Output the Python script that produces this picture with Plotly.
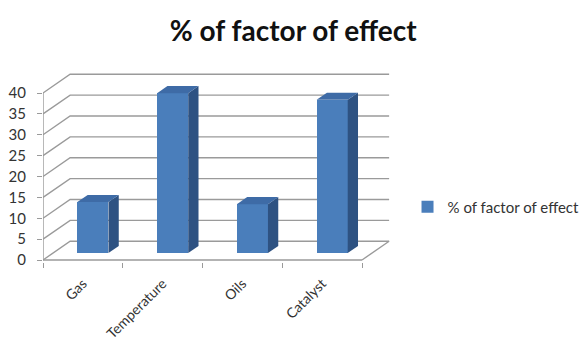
import plotly.graph_objects as go

# Chart data
categories = ["Gas", "Temperature", "Oils", "Catalyst"]
values = [12.2, 38.3, 11.7, 36.7]
y_ticks = [0, 5, 10, 15, 20, 25, 30, 35, 40]
series_name = "% of factor of effect"

# 3-D box geometry (in axis units)
DEPTH_X = 0.34      # horizontal shift of the back wall
DEPTH_Y = 4.5       # vertical shift of the back wall
BAR_FRONT = 0.37    # depth fraction where the bar fronts sit
BAR_DEPTH = 0.38    # depth fraction taken by each bar
BAR_WIDTH = 0.39

FRONT_COLOR = "#4a7ebb"
TOP_COLOR = "#3e6ba6"
SIDE_COLOR = "#2e5282"
GRID_COLOR = "#9a9a9a"

n = len(categories)
x_left, x_right = -0.5, n - 0.5

fig = go.Figure()

# Side wall and back wall gridlines (base subplot, drawn underneath)
gx, gy = [], []
for v in y_ticks:
    gx += [x_left, x_left + DEPTH_X, x_right + DEPTH_X, None]
    gy += [v, v + DEPTH_Y, v + DEPTH_Y, None]
# floor right edge and front edge, front vertical axis
gx += [x_right, x_right + DEPTH_X, None, x_left, x_right, None, x_left, x_left, None]
gy += [0, DEPTH_Y, None, 0, 0, None, 0, max(y_ticks), None]
fig.add_trace(go.Scatter(x=gx, y=gy, mode="lines",
                         line=dict(color=GRID_COLOR, width=1.4),
                         hoverinfo="skip", showlegend=False))

# Bars (overlay subplot, drawn on top of the walls)
shift_x = DEPTH_X * BAR_FRONT
base = DEPTH_Y * BAR_FRONT
dx = DEPTH_X * BAR_DEPTH
dy = DEPTH_Y * BAR_DEPTH
centers = [i + shift_x for i in range(n)]

for c, v in zip(centers, values):
    x0, x1 = c - BAR_WIDTH / 2, c + BAR_WIDTH / 2
    top = base + v
    # right side face
    fig.add_trace(go.Scatter(
        x=[x1, x1, x1 + dx, x1 + dx, x1], y=[base, top, top + dy, base + dy, base],
        xaxis="x2", mode="lines", fill="toself", fillcolor=SIDE_COLOR,
        line=dict(width=0, color=SIDE_COLOR), hoverinfo="skip", showlegend=False))
    # top face
    fig.add_trace(go.Scatter(
        x=[x0, x1, x1 + dx, x0 + dx, x0], y=[top, top, top + dy, top + dy, top],
        xaxis="x2", mode="lines", fill="toself", fillcolor=TOP_COLOR,
        line=dict(width=0, color=TOP_COLOR), hoverinfo="skip", showlegend=False))

# Front faces
fig.add_trace(go.Bar(
    x=centers, y=values, base=[base] * n, width=BAR_WIDTH, xaxis="x2",
    marker=dict(color=FRONT_COLOR, line=dict(width=0)),
    name=series_name, showlegend=True))

px_per_cat = 79.75
plot_w = 583 - 43 - 183
x_max = x_left + plot_w / px_per_cat
px_per_unit = 4.175
plot_h = 343 - 60 - 81
y_min = -2 / px_per_unit
y_max = y_min + plot_h / px_per_unit

font_family = "Lato, 'Open Sans', sans-serif"

fig.update_layout(
    width=583, height=343,
    margin=dict(l=43, r=183, t=60, b=81),
    paper_bgcolor="white", plot_bgcolor="white",
    font=dict(family=font_family, color="#333333"),
    title=dict(text="<b>% of factor of effect</b>", xref="container", yref="container",
               x=0.503, xanchor="center", y=0.91, yanchor="middle",
               font=dict(size=28, color="#111111", family=font_family)),
    xaxis=dict(range=[x_left, x_max], showgrid=False, zeroline=False, showline=False,
               automargin=False,
               tickvals=list(range(n)), ticktext=categories, tickangle=-45,
               ticks="outside", ticklen=7, tickcolor="rgba(0,0,0,0)",
               tickfont=dict(size=14, color="#333333")),
    xaxis2=dict(overlaying="x", matches="x", anchor="y", side="bottom",
                automargin=False,
                showgrid=False, zeroline=False, showline=False,
                tickvals=[x_left + k for k in range(n + 1)], ticks="outside",
                ticklen=5, tickcolor=GRID_COLOR, tickwidth=1.2, showticklabels=False),
    yaxis=dict(range=[y_min, y_max], showgrid=False, zeroline=False, showline=False,
               automargin=False,
               tickvals=y_ticks, ticks="outside", ticklen=5, tickcolor=GRID_COLOR,
               ticklabelstandoff=8,
               tickfont=dict(size=15, color="#333333")),
    legend=dict(xref="container", yref="container", x=0.699, xanchor="left",
                y=0.3965, yanchor="middle",
                font=dict(size=15, color="#333333"), bgcolor="rgba(0,0,0,0)"),
    bargap=0,
)

fig.write_html("out.html")
